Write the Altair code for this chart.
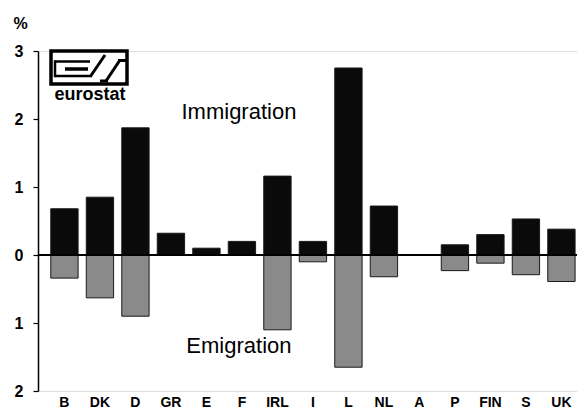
import altair as alt
import pandas as pd

countries = ["B", "DK", "D", "GR", "E", "F", "IRL", "I", "L", "NL", "A", "P", "FIN", "S", "UK"]
immigration = [0.68, 0.85, 1.87, 0.32, 0.10, 0.20, 1.16, 0.20, 2.75, 0.72, 0.0, 0.15, 0.30, 0.53, 0.38]
emigration = [0.34, 0.63, 0.90, 0.0, 0.0, 0.0, 1.10, 0.10, 1.65, 0.32, 0.0, 0.23, 0.12, 0.29, 0.39]
series = ["Immigration", "Emigration"]
y_ticks = [-2, -1.5, -1, -0.5, 0, 0.5, 1, 1.5, 2, 2.5, 3]

rows = []
for c, im, em in zip(countries, immigration, emigration):
    if im > 0:
        rows.append({"country": c, "series": series[0], "value": im})
    if em > 0:
        rows.append({"country": c, "series": series[1], "value": -em})
df = pd.DataFrame(rows)

FONT = "Liberation Sans"
W, H = 539, 340

x_enc = alt.X(
    "country:N",
    sort=countries,
    scale=alt.Scale(domain=countries, paddingInner=0.23, paddingOuter=0.2067, align=0.87),
    axis=alt.Axis(title=None, domain=False, ticks=False, labelAngle=0,
                  labelPadding=4, labelFont=FONT, labelFontSize=14,
                  labelFontWeight="bold", labelColor="black"),
)
y_enc = alt.Y(
    "value:Q",
    scale=alt.Scale(domain=[-2, 3], nice=False),
    axis=alt.Axis(values=y_ticks,
                  labelExpr="datum.value % 1 == 0 ? format(abs(datum.value), 'd') : ''",
                  grid=False, domainColor="black", domainWidth=1.5,
                  tickColor="black", tickSize=5, tickWidth=1.2,
                  labelPadding=10, labelFont=FONT, labelFontSize=16,
                  labelFontWeight="bold", labelColor="black",
                  title="%", titleAngle=0, titleX=-18, titleY=-23,
                  titleAlign="center", titleBaseline="alphabetic",
                  titleFont=FONT, titleFontSize=16, titleFontWeight="bold",
                  titleColor="black"),
)

bars = alt.Chart(df).mark_bar(stroke="#1a1a1a", strokeWidth=1).encode(
    x=x_enc,
    y=y_enc,
    color=alt.Color("series:N", scale=alt.Scale(domain=series, range=["#0a0a0a", "#8a8a8a"]), legend=None),
)

zero = alt.Chart(pd.DataFrame({"v": [0]})).mark_rule(color="black", strokeWidth=2).encode(
    y=alt.Y("v:Q"),
    x=alt.value(0),
    x2=alt.value(W),
)

ann_df = pd.DataFrame({
    "country": ["F", "F"],
    "value": [2.0, -1.44],
    "label": ["Immigration", "Emigration"],
})
ann = alt.Chart(ann_df).mark_text(font=FONT, fontSize=22, align="center",
                                  baseline="alphabetic", dx=-3, color="black").encode(
    x=alt.X("country:N", sort=countries),
    y=alt.Y("value:Q"),
    text="label:N",
)

# eurostat logo (decoration)
one = pd.DataFrame({"a": [0]})
logo_box = alt.Chart(one).mark_rect(
    fill="white", stroke="black", strokeWidth=3.5).encode(
    x=alt.value(13), x2=alt.value(89), y=alt.value(0), y2=alt.value(33))

def seg(x1, y1, x2, y2, w=2.5):
    return alt.Chart(one).mark_rule(color="black", strokeWidth=w, strokeCap="butt").encode(
        x=alt.value(x1), y=alt.value(y1), x2=alt.value(x2), y2=alt.value(y2))

logo_parts = [
    seg(17, 10.5, 52, 10.5),
    seg(27, 18, 50, 18, 3.5),
    seg(17, 25, 52, 25),
    seg(17, 9.3, 17, 26.2),
    seg(52, 26, 67, 4, 3),
    seg(62, 30, 70, 30, 3),
    seg(68, 30, 82, 9, 3),
    seg(80, 9.5, 89, 9.5, 3),
]
logo_text = alt.Chart(pd.DataFrame({"t": ["eurostat"]})).mark_text(
    font=FONT, fontSize=18, fontWeight="bold", align="center",
    baseline="alphabetic", color="black").encode(
    x=alt.value(52), y=alt.value(49), text="t:N")

chart = alt.layer(bars, zero, ann, logo_box, *logo_parts, logo_text).properties(
    width=W, height=H,
    autosize=alt.AutoSizeParams(type="none"),
    padding={"left": 30, "top": 43, "right": 0, "bottom": 20},
).configure_view(stroke=None).configure(background="white")

chart.save("out.html", embed_options={"renderer": "svg", "actions": False})
